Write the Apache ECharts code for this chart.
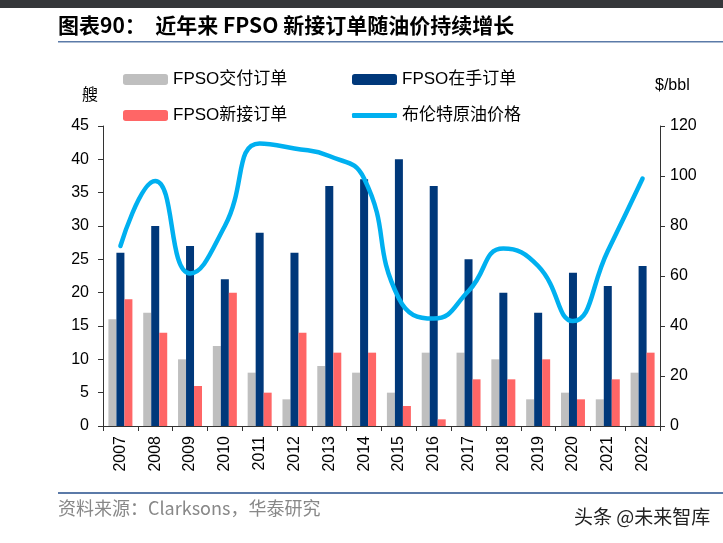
<!DOCTYPE html>
<html><head><meta charset="utf-8">
<script src="https://cdn.jsdelivr.net/npm/echarts@6/dist/echarts.min.js"></script>
<style>html,body{margin:0;padding:0;background:#fff}#c{width:723px;height:543px}</style>
</head><body><div id="c"></div>
<script>
const years = ['2007','2008','2009','2010','2011','2012','2013','2014','2015','2016','2017','2018','2019','2020','2021','2022'];
const delivered = [16,17,10,12,8,4,9,8,5,11,11,10,4,5,4,8];
const onHand = [26,30,27,22,29,26,36,37,40,36,25,20,17,23,21,24];
const newOrders = [19,14,6,20,5,14,11,11,3,1,7,7,10,4,7,11];
const brent = [72,98,61,80,113,111,108,99,51,43,54,71,64,42,70,99];
const leftTicks = {min:0,max:45,interval:5};
const rightTicks = {min:0,max:120,interval:20};

const CJK = '"Noto Sans CJK SC", sans-serif';
const LAT = '"Liberation Sans", Arial, sans-serif';
const chart = echarts.init(document.getElementById('c'));
const axisCol = '#333';
const legendBase = {padding:0,itemWidth:45,itemHeight:11,itemGap:0,textStyle:{fontSize:17,color:'#000',fontFamily:LAT+','+CJK,padding:[0,0,0,0]}};
chart.setOption({
  animation:false,
  backgroundColor:'#fff',
  grid:{left:103,right:63,top:126,bottom:117},
  legend:[
    Object.assign({left:123,top:71,data:['FPSO交付订单']},legendBase),
    Object.assign({left:352,top:71,data:['FPSO在手订单']},legendBase),
    Object.assign({left:123,top:107,data:['FPSO新接订单']},legendBase),
    Object.assign({left:352,top:107,data:[{name:'布伦特原油价格',icon:'roundRect'}]},legendBase,{itemHeight:5})
  ],
  xAxis:{type:'category',data:years,
    axisLine:{lineStyle:{color:axisCol,width:1}},
    axisTick:{show:true,length:5,lineStyle:{color:axisCol}},
    axisLabel:{rotate:90,fontSize:16,color:'#000',fontFamily:LAT,margin:10}},
  yAxis:[
    {type:'value',min:leftTicks.min,max:leftTicks.max,interval:leftTicks.interval,
     axisLine:{show:true,lineStyle:{color:axisCol}},axisTick:{show:true,length:5,lineStyle:{color:axisCol}},
     splitLine:{show:false},axisLabel:{fontSize:16,color:'#000',fontFamily:LAT,margin:14}},
    {type:'value',min:rightTicks.min,max:rightTicks.max,interval:rightTicks.interval,position:'right',
     axisLine:{show:true,lineStyle:{color:axisCol}},axisTick:{show:true,length:5,lineStyle:{color:axisCol}},
     splitLine:{show:false},axisLabel:{fontSize:16,color:'#000',fontFamily:LAT,margin:10}}
  ],
  series:[
    {name:'FPSO交付订单',type:'bar',data:delivered,barWidth:8,barGap:'0%',itemStyle:{color:'#bfbfbf'}},
    {name:'FPSO在手订单',type:'bar',data:onHand,barWidth:8,barGap:'0%',itemStyle:{color:'#00387a'}},
    {name:'FPSO新接订单',type:'bar',data:newOrders,barWidth:8,barGap:'0%',itemStyle:{color:'#ff6666'}},
    {name:'布伦特原油价格',type:'line',yAxisIndex:1,data:brent,smooth:0.5,symbol:'none',
     lineStyle:{color:'#00b0f0',width:4.5,cap:'round'},itemStyle:{color:'#00b0f0'}}
  ],
  graphic:[
    {type:'rect',shape:{x:0,y:0,width:723,height:8},style:{fill:'#35373a'}},
    {type:'text',left:58,top:15,style:{text:'图表90：  近年来 FPSO 新接订单随油价持续增长',font:'bold 21px '+CJK,fill:'#000'}},
    {type:'rect',shape:{x:58,y:41,width:665,height:1.5},style:{fill:'#5b7aa8'}},
    {type:'text',left:82,top:86,style:{text:'艘',font:'16px '+CJK,fill:'#000'}},
    {type:'text',left:655,top:78,style:{text:'$/bbl',font:'16px '+LAT,fill:'#000'}},
    {type:'rect',shape:{x:58,y:492,width:665,height:2},style:{fill:'#5b7aa8'}},
    {type:'text',left:58,top:499,style:{text:'资料来源：Clarksons，华泰研究',font:'18px '+CJK,fill:'#888'}},
    {type:'text',left:574,top:507,style:{text:'头条 @未来智库',font:'19px '+CJK,fill:'#222'}}
  ]
});
</script></body></html>
